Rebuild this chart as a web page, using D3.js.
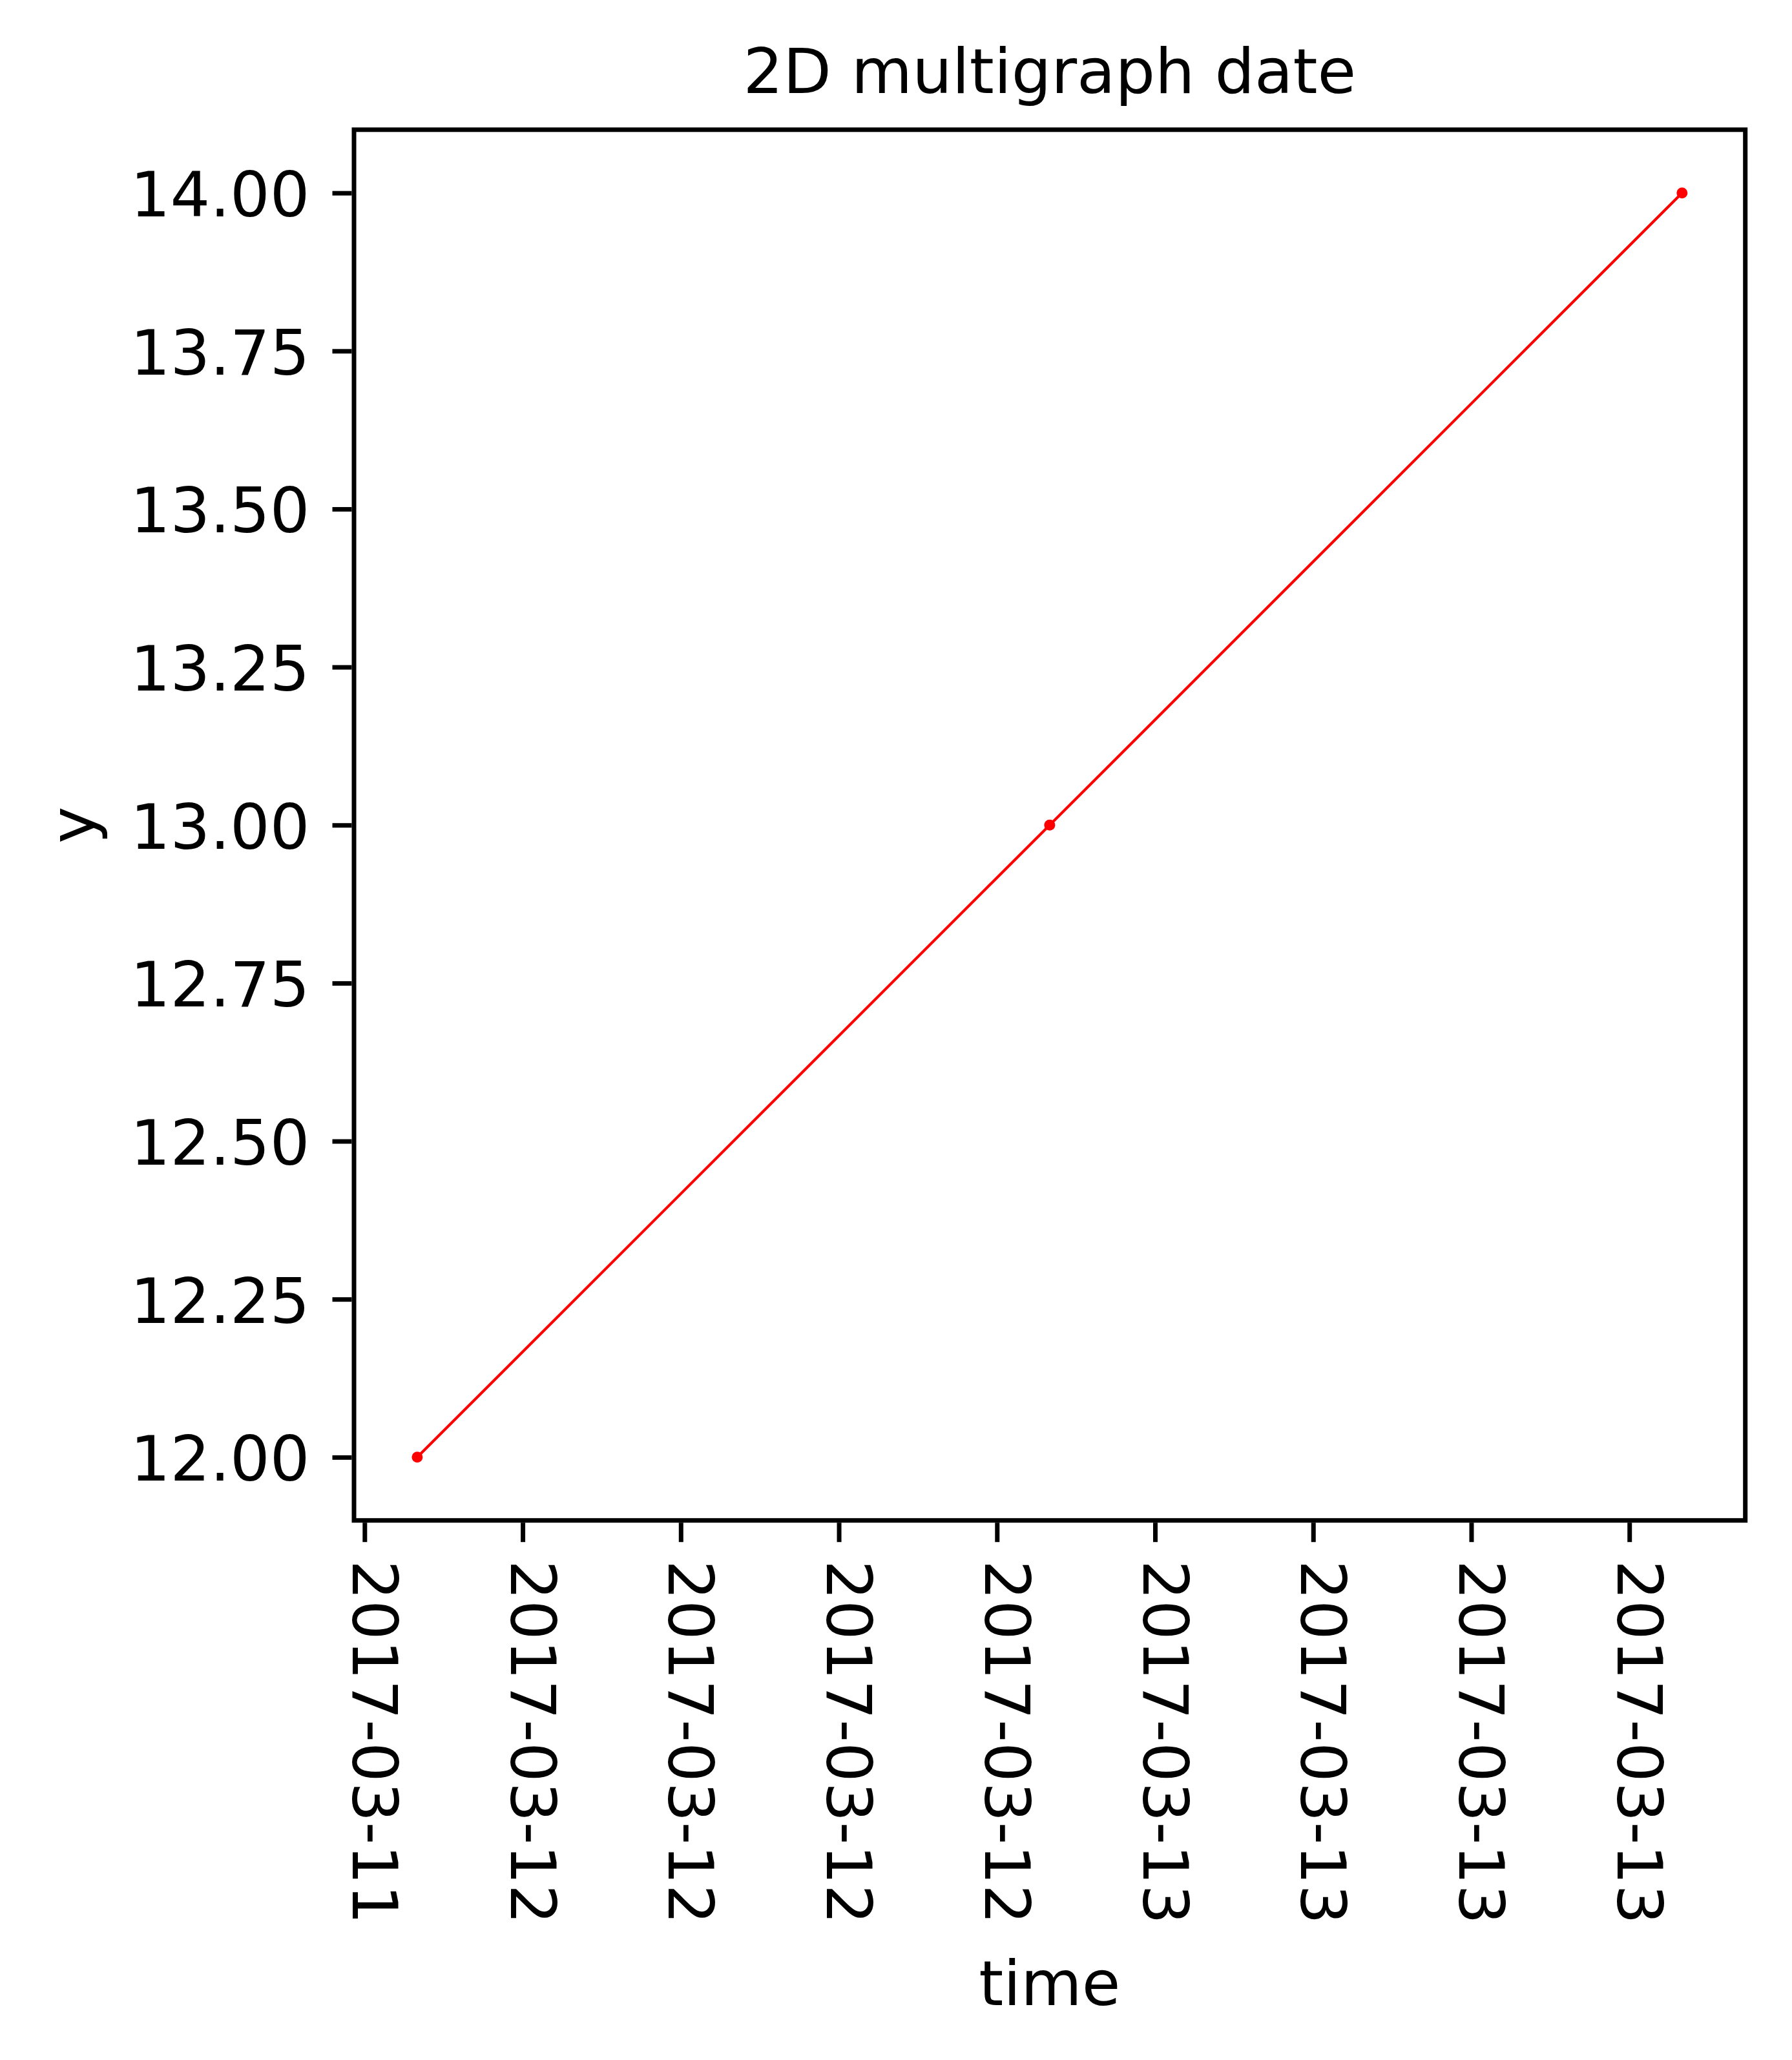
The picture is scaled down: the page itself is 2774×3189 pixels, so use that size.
<!DOCTYPE html>
<html>
<head>
<meta charset="utf-8">
<script src="https://cdn.jsdelivr.net/npm/d3@7"></script>
<style>
  html, body { margin: 0; padding: 0; background: #ffffff; }
  svg { display: block; }
  text { font-family: "DejaVu Sans", sans-serif; fill: #000; }
</style>
</head>
<body>
<script>
// ---- data ----
const times = ["2017-03-11T20:00:00Z", "2017-03-12T20:00:00Z", "2017-03-13T20:00:00Z"];
const yValues = [12, 13, 14];
const yTicks = [12.00, 12.25, 12.50, 12.75, 13.00, 13.25, 13.50, 13.75, 14.00];
const titleText = "2D multigraph date";
const xLabelText = "time";
const yLabelText = "y";

// ---- layout ----
const W = 2774, H = 3189;
const plot = { left: 548, right: 2701.7, top: 200.8, bottom: 2353.7 };
const fontPx = 97;
const spineW = 7;
const tickLen = 30;

const dates = times.map(t => new Date(t));
const data = dates.map((d, i) => ({ t: d, v: yValues[i] }));

const svg = d3.select("body").append("svg")
  .attr("width", W).attr("height", H)
  .attr("viewBox", `0 0 ${W} ${H}`);

// x domain with 5% margins (matplotlib default)
const tMin = d3.min(dates), tMax = d3.max(dates);
const span = tMax - tMin;
const x = d3.scaleUtc()
  .domain([new Date(+tMin - 0.05 * span), new Date(+tMax + 0.05 * span)])
  .range([plot.left, plot.right]);

const vMin = d3.min(yValues), vMax = d3.max(yValues);
const vSpan = vMax - vMin;
const y = d3.scaleLinear()
  .domain([vMin - 0.05 * vSpan, vMax + 0.05 * vSpan])
  .range([plot.bottom, plot.top]);

// line
const line = d3.line().x(d => x(d.t)).y(d => y(d.v));
svg.append("path")
  .datum(data)
  .attr("d", line)
  .attr("fill", "none")
  .attr("stroke", "#ff0000")
  .attr("stroke-width", 4.2)
  .attr("stroke-linejoin", "round")
  .attr("stroke-linecap", "square");

svg.append("g").selectAll("circle")
  .data(data).join("circle")
  .attr("cx", d => x(d.t))
  .attr("cy", d => y(d.v))
  .attr("r", 8.5)
  .attr("fill", "#ff0000");

// x axis
const xTickVals = x.ticks(d3.utcHour.every(6));
const fmt = d3.utcFormat("%Y-%m-%d");
const xAxis = d3.axisBottom(x)
  .tickValues(xTickVals)
  .tickSize(tickLen)
  .tickSizeOuter(0)
  .tickFormat(fmt);
const gx = svg.append("g")
  .attr("transform", `translate(0,${plot.bottom + spineW / 2})`)
  .call(xAxis);
gx.select(".domain").remove();
gx.selectAll(".tick line").attr("stroke", "#000").attr("stroke-width", spineW);
gx.selectAll(".tick text")
  .attr("font-size", fontPx)
  .attr("font-family", "DejaVu Sans")
  .attr("fill", "#000")
  .attr("text-anchor", "start")
  .attr("dy", null)
  .attr("x", null).attr("y", null)
  .attr("transform", `translate(-19, ${tickLen + 28}) rotate(90)`);

// y axis
const yAxis = d3.axisLeft(y)
  .tickValues(yTicks)
  .tickSize(tickLen)
  .tickSizeOuter(0)
  .tickFormat(d3.format(".2f"));
const gy = svg.append("g")
  .attr("transform", `translate(${plot.left - spineW / 2},0)`)
  .call(yAxis);
gy.select(".domain").remove();
gy.selectAll(".tick line").attr("stroke", "#000").attr("stroke-width", spineW);
gy.selectAll(".tick text")
  .attr("font-size", fontPx)
  .attr("font-family", "DejaVu Sans")
  .attr("fill", "#000")
  .attr("x", -(tickLen + 35))
  .attr("dy", 36);

// spines (frame)
svg.append("rect")
  .attr("x", plot.left).attr("y", plot.top)
  .attr("width", plot.right - plot.left)
  .attr("height", plot.bottom - plot.top)
  .attr("fill", "none")
  .attr("stroke", "#000")
  .attr("stroke-width", spineW)
  .attr("stroke-linejoin", "miter");

// title
svg.append("text")
  .attr("x", (plot.left + plot.right) / 2)
  .attr("y", 144)
  .attr("text-anchor", "middle")
  .attr("font-size", fontPx)
  .text(titleText);

// x label
svg.append("text")
  .attr("x", (plot.left + plot.right) / 2)
  .attr("y", 3104)
  .attr("text-anchor", "middle")
  .attr("font-size", fontPx)
  .text(xLabelText);

// y label
svg.append("text")
  .attr("transform", `translate(146, ${(plot.top + plot.bottom) / 2}) rotate(-90)`)
  .attr("text-anchor", "middle")
  .attr("font-size", fontPx)
  .text(yLabelText);
</script>
</body>
</html>
